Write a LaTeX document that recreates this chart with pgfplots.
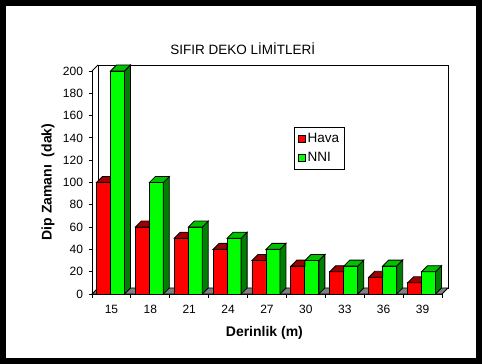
\documentclass[border=0pt]{standalone}
\usepackage{fontspec}
\setmainfont{Liberation Sans}
\usepackage{pgfplots}
\usepackage{pgfplotstable}
\pgfplotsset{compat=1.18}
\definecolor{barred}{HTML}{FF0000}
\definecolor{redtop}{HTML}{A00000}
\definecolor{bargreen}{HTML}{00FF00}
\definecolor{greentop}{HTML}{00C000}
\definecolor{greenside}{HTML}{008000}
\definecolor{floorgray}{HTML}{808080}
\newcommand\yunit{1.115}
\pgfdeclareplotmark{depthred}{%
  \filldraw[fill=redtop,draw=black,line width=0.8bp] (-15bp,0bp) -- (-9bp,6bp) -- (-1bp,6bp) -- (-1bp,0bp) -- cycle;
}
\pgfdeclareplotmark{depthgreen}{%
  \pgfmathsetmacro\hh{\ry*\yunit}%
  \pgfmathsetmacro\bt{6-\hh}%
  \pgfmathsetmacro\bb{-\hh}%
  \filldraw[fill=greenside,draw=black,line width=0.8bp] (13bp,0bp) -- (19bp,6bp) -- (19bp,\bt bp) -- (13bp,\bb bp) -- cycle;
  \filldraw[fill=greentop,draw=black,line width=0.8bp] (-1bp,0bp) -- (5bp,6bp) -- (19bp,6bp) -- (13bp,0bp) -- cycle;
}
\pgfplotstableread{
x hava nni
0 100 200
1 60 100
2 50 60
3 40 50
4 30 40
5 25 30
6 20 25
7 15 25
8 10 20
}\datatable
\begin{document}
\begin{tikzpicture}
\fill[black] (0,0) rectangle (482bp,364bp);
\fill[white] (6bp,6bp) rectangle (476bp,358bp);
\begin{axis}[
  at={(92bp,70bp)}, anchor=south west,
  scale only axis, width=350bp, height=223bp,
  xmin=-0.5, xmax=8.5, ymin=0, ymax=200,
  clip=false,
  axis x line*=bottom, axis y line*=left,
  axis line style={-, black, line width=0.8bp},
  every tick/.style={black, line width=0.8bp},
  tick align=outside, major tick length=3.5bp,
  xtick={-0.5,0.5,...,8.5}, xticklabels={},
  extra x ticks={0,...,8},
  extra x tick labels={15,18,21,24,27,30,33,36,39},
  extra x tick style={major tick length=0pt},
  ytick={0,20,...,200},
  /pgf/number format/assume math mode=true,
  tick label style={font=\fontsize{12bp}{14bp}\selectfont, black},
  xticklabel style={yshift=-7.5bp},
  yticklabel style={xshift=-2bp},
  title={SIFIR DEKO LİMİTLERİ},
  title style={at={(axis description cs:0.431,1.075)}, anchor=center, font=\fontsize{13.5bp}{16bp}\selectfont},
  ylabel={Dip Zamanı~ (dak)},
  ylabel style={at={(axis description cs:-0.126,0.502)}, anchor=center, font=\fontsize{14bp}{16bp}\selectfont\bfseries},
  xlabel={Derinlik (m)},
  xlabel style={at={(axis description cs:0.4926,-0.176)}, anchor=center, font=\fontsize{14bp}{16bp}\selectfont\bfseries},
  legend style={at={(axis description cs:0.577,0.750)}, anchor=north west, draw=black, line width=0.8bp, fill=white,
    font=\fontsize{13.5bp}{15bp}\selectfont, inner xsep=3.5bp, inner ysep=4.5bp, row sep=4bp},
  legend cell align=left,
]
\draw[fill=white, line width=0.8bp] ([shift={(6bp,6bp)}]rel axis cs:0,0) rectangle ([shift={(6bp,6bp)}]rel axis cs:1,1);
\draw[line width=0.8bp] (rel axis cs:0,1) -- ++(6bp,6bp);
\draw[fill=floorgray, line width=0.8bp] (rel axis cs:0,0) -- (rel axis cs:1,0) -- ++(6bp,6bp) -- ([shift={(6bp,6bp)}]rel axis cs:0,0) -- cycle;
\addplot[ybar, bar width=14bp, bar shift=-8bp, fill=barred, draw=black, line width=0.8bp,
  legend image code/.code={\draw[fill=barred,draw=black,line width=0.8bp] (0bp,-3.5bp) rectangle (7bp,3.5bp);}]
  table[x=x,y=hava]{\datatable};
\addlegendentry{Hava}
\addplot[only marks, mark=depthred, forget plot]
  table[x=x,y=hava]{\datatable};
\addplot[ybar, bar width=14bp, bar shift=6bp, fill=bargreen, draw=black, line width=0.8bp,
  legend image code/.code={\draw[fill=bargreen,draw=black,line width=0.8bp] (0bp,-3.5bp) rectangle (7bp,3.5bp);}]
  table[x=x,y=nni]{\datatable};
\addlegendentry{NNI}
\addplot[only marks, mark=depthgreen, visualization depends on={rawy \as \ry}, forget plot]
  table[x=x,y=nni]{\datatable};
\end{axis}
\end{tikzpicture}
\end{document}
